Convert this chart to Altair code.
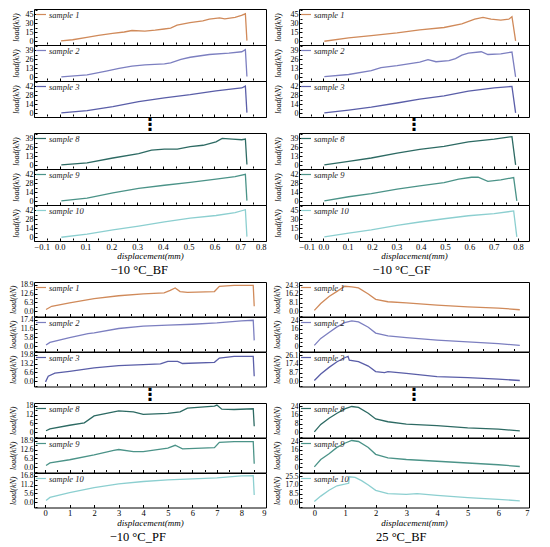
import json
import altair as alt
import pandas as pd

SERIF = "Liberation Serif"

SAMPLES = ["sample 1", "sample 2", "sample 3", "sample 8", "sample 9", "sample 10"]
COLORS = ["#d08a5a", "#7c7fc0", "#5a5ea8", "#2d6a63", "#4b9388", "#8ccfd0"]
GROUP_TITLES = ["\u221210 \u00b0C_BF", "\u221210 \u00b0C_GF", "\u221210 \u00b0C_PF", "25 \u00b0C_BF"]

# ---------------- -10 °C_BF (top-left) ----------------
tl_s1_x = [0.005, 0.05, 0.105, 0.15, 0.205, 0.25, 0.28, 0.33, 0.37, 0.405, 0.43, 0.455, 0.505, 0.555, 0.58, 0.62, 0.64, 0.68, 0.705, 0.72, 0.726]
tl_s1_y = [0.5, 2.5, 6.5, 10, 13, 15.5, 18, 17, 18.5, 20.5, 22, 27, 31, 34, 37, 39, 37.5, 40, 43.5, 46, 1]
tl_s2_x = [0.006, 0.106, 0.18, 0.23, 0.28, 0.33, 0.406, 0.43, 0.47, 0.506, 0.58, 0.656, 0.706, 0.72, 0.726]
tl_s2_y = [0.5, 3.5, 9, 13, 16, 18, 19.5, 21, 26, 29, 33, 35, 37, 40, 1]
tl_s3_x = [0.006, 0.106, 0.206, 0.306, 0.406, 0.506, 0.606, 0.68, 0.706, 0.72, 0.726]
tl_s3_y = [0.5, 4, 10.5, 18, 24, 29, 35, 38.5, 39.5, 42.5, 1]
tl_s8_x = [0.006, 0.106, 0.206, 0.306, 0.356, 0.406, 0.456, 0.506, 0.556, 0.606, 0.63, 0.67, 0.706, 0.72, 0.726]
tl_s8_y = [0.5, 3.5, 10.5, 17, 22, 23.5, 23.5, 27, 29, 34, 39, 38, 37, 38, 1]
tl_s9_x = [0.006, 0.106, 0.206, 0.306, 0.406, 0.506, 0.606, 0.68, 0.72, 0.726]
tl_s9_y = [0.5, 5, 13, 20, 25, 29.5, 34.5, 38.5, 42, 1]
tl_s10_x = [0.006, 0.106, 0.206, 0.306, 0.406, 0.506, 0.606, 0.68, 0.72, 0.726]
tl_s10_y = [0, 5, 11.5, 17.5, 24, 30, 34, 38.5, 43, 1]

# ---------------- -10 °C_GF (top-right) ----------------
tr_s1_x = [0.004, 0.104, 0.197, 0.303, 0.396, 0.496, 0.569, 0.622, 0.656, 0.689, 0.729, 0.762, 0.775, 0.79]
tr_s1_y = [0, 5.5, 9.5, 14, 19, 23, 29, 37, 40, 37, 35.5, 37, 41, 0.5]
tr_s2_x = [0.004, 0.104, 0.197, 0.237, 0.303, 0.396, 0.43, 0.463, 0.516, 0.543, 0.569, 0.596, 0.649, 0.676, 0.729, 0.775, 0.79]
tr_s2_y = [1, 4, 9.5, 14, 17, 22, 25.5, 22.5, 24, 27, 32, 35, 37, 33, 34, 36.5, 0.5]
tr_s3_x = [0.004, 0.104, 0.197, 0.303, 0.396, 0.496, 0.596, 0.702, 0.775, 0.79]
tr_s3_y = [0.5, 5, 9.5, 16, 22, 27, 34.5, 39.5, 42, 0.5]
tr_s8_x = [0.004, 0.104, 0.197, 0.303, 0.396, 0.496, 0.596, 0.702, 0.775, 0.79]
tr_s8_y = [0.5, 5.7, 10.5, 17.5, 23, 27.5, 34, 38, 41.5, 0.5]
tr_s9_x = [0.004, 0.104, 0.197, 0.303, 0.396, 0.496, 0.556, 0.609, 0.636, 0.676, 0.729, 0.782, 0.795]
tr_s9_y = [0.5, 7, 12, 19, 24, 29, 34.5, 37.5, 37.5, 31, 33.5, 37, 0.5]
tr_s10_x = [0.004, 0.104, 0.197, 0.303, 0.396, 0.496, 0.596, 0.702, 0.782, 0.795]
tr_s10_y = [0.5, 7, 12.5, 20, 25.5, 31, 36, 39.5, 44, 0.5]

# ---------------- -10 °C_PF (bottom-left) ----------------
bl_s1_x = [0.04, 0.27, 1.0, 2.0, 3.0, 4.0, 4.85, 5.1, 5.3, 5.5, 5.8, 6.9, 7.1, 7.7, 8.48, 8.52]
bl_s1_y = [1.2, 3.5, 6, 9, 11, 12.3, 13, 14.8, 16.5, 14, 13.4, 14, 17.7, 18.4, 18.4, 3.5]
bl_s2_x = [0.04, 0.2, 1.0, 1.75, 2.0, 3.0, 4.0, 5.0, 6.0, 7.0, 8.0, 8.48, 8.52]
bl_s2_y = [0.8, 2.5, 5.6, 8.2, 8.7, 11.6, 13.1, 13.8, 14.4, 15.3, 16.6, 17.0, 3.8]
bl_s3_x = [0.02, 0.13, 0.4, 1.0, 2.0, 3.0, 4.0, 4.7, 5.0, 5.4, 5.6, 6.9, 7.1, 7.7, 8.48, 8.52]
bl_s3_y = [-0.5, 3.7, 6, 7.4, 9.9, 11.6, 12.4, 12.9, 14.8, 14.8, 13.2, 14.1, 17.3, 18.5, 18.5, 3.7]
bl_s8_x = [0.04, 0.2, 1.0, 1.6, 2.0, 3.0, 3.6, 4.0, 5.0, 5.5, 5.8, 6.9, 7.0, 7.2, 7.7, 8.48, 8.52]
bl_s8_y = [1, 2.3, 4.7, 6.3, 11, 14.5, 13.8, 12.1, 12.8, 13.8, 16.3, 17.7, 18.4, 15.6, 15.4, 15.9, 4]
bl_s9_x = [0.04, 0.2, 1.0, 2.0, 2.8, 3.0, 3.6, 4.0, 5.0, 5.3, 5.6, 6.9, 7.1, 7.7, 8.48, 8.52]
bl_s9_y = [1.2, 3, 5.3, 8.7, 11.9, 12.6, 11.1, 11.1, 13.6, 15.6, 13.1, 13.9, 17.7, 18.2, 18.2, 2.4]
bl_s10_x = [0.04, 0.2, 1.0, 2.0, 3.0, 4.0, 5.0, 6.0, 7.0, 8.0, 8.48, 8.52]
bl_s10_y = [1, 3, 6, 9.2, 11.6, 13.1, 14.1, 14.8, 15.4, 16.6, 16.8, 4.5]

# ---------------- 25 °C_BF (bottom-right) ----------------
br_s1_x = [0.0, 0.21, 0.48, 0.74, 0.99, 1.22, 1.44, 1.76, 2.0, 2.4, 3.0, 4.0, 5.0, 6.0, 6.7]
br_s1_y = [1, 7.4, 13.8, 18.6, 23.3, 22.7, 21.8, 16.2, 11.2, 9, 8, 5.8, 4.2, 3.2, 1.6]
br_s2_x = [0.0, 0.21, 0.48, 0.74, 0.99, 1.22, 1.44, 1.76, 2.0, 2.4, 3.0, 4.0, 5.0, 6.0, 6.7]
br_s2_y = [1, 7.4, 12.8, 17.9, 21.8, 23.4, 22.4, 17.6, 12.2, 9.6, 8, 5.8, 4.2, 2.6, 1]
br_s3_x = [0.0, 0.21, 0.48, 0.74, 1.01, 1.1, 1.14, 1.44, 1.76, 2.0, 2.29, 2.4, 3.0, 4.0, 5.0, 6.0, 6.7]
br_s3_y = [1, 7.5, 14, 19.6, 23.8, 25, 21.2, 19.6, 15.3, 9.8, 8.8, 9.8, 8.1, 4.9, 3.9, 2.3, 1]
br_s8_x = [0.0, 0.21, 0.48, 0.74, 0.99, 1.22, 1.44, 1.76, 2.0, 2.4, 3.0, 4.0, 5.0, 6.0, 6.7]
br_s8_y = [0.6, 7.4, 13, 17.5, 21.5, 23.7, 22.8, 17.5, 12.3, 9.8, 7.7, 6.2, 4.3, 3.1, 1.5]
br_s9_x = [0.0, 0.21, 0.48, 0.74, 0.99, 1.22, 1.44, 1.76, 2.0, 2.4, 3.0, 4.0, 5.0, 6.0, 6.7]
br_s9_y = [0.6, 7.2, 12.6, 18.3, 22.1, 24.6, 23.7, 18.3, 12, 8.8, 7.3, 5.7, 4.1, 2.5, 0.9]
br_s10_x = [0.0, 0.21, 0.48, 0.74, 0.99, 1.12, 1.14, 1.33, 1.54, 1.76, 2.0, 2.4, 3.0, 3.35, 4.0, 5.0, 6.0, 6.7]
br_s10_y = [1, 6.2, 11.8, 16.2, 17.7, 18.6, 24.9, 24.3, 21.2, 17, 11.8, 8.5, 7.8, 8.5, 6.8, 4.7, 3.1, 1.6]

# ---------------- tick labels ----------------
TL_YTICKS = [[0, 15, 30, 45], [0, 13, 26, 39], [0, 14, 28, 42], [0, 13, 26, 39], [0, 14, 28, 42], [0, 14, 28, 42]]
TR_YTICKS = [[0, 15, 30, 45], [0, 13, 26, 39], [0, 14, 28, 42], [0, 13, 26, 39], [0, 14, 28, 42], [0, 15, 30, 45]]
BL_YTICKS = [[0.0, 6.3, 12.6, 18.9], [0.0, 5.8, 11.6, 17.4], [0.0, 6.6, 13.2, 19.8], [0, 6, 12, 18], [0.0, 6.3, 12.6, 18.9], [0.0, 5.6, 11.2, 16.8]]
BR_YTICKS = [[0.0, 8.1, 16.2, 24.3], [0, 8, 16, 24], [0.0, 8.7, 17.4, 26.1], [0, 8, 16, 24], [0, 8, 16, 24], [0.0, 8.5, 17.0, 25.5]]
BL_YFMT = [".1f", ".1f", ".1f", "d", ".1f", ".1f"]
BR_YFMT = [".1f", "d", ".1f", "d", "d", ".1f"]

X_TICKS_MM = [-0.1, 0.0, 0.1, 0.2, 0.3, 0.4, 0.5, 0.6, 0.7, 0.8]
X_MINOR_MM = [-0.05, 0.05, 0.15, 0.25, 0.35, 0.45, 0.55, 0.65, 0.75]
X_TICKS_PF = [0, 1, 2, 3, 4, 5, 6, 7, 8, 9]
X_MINOR_PF = [0.5, 1.5, 2.5, 3.5, 4.5, 5.5, 6.5, 7.5, 8.5]
X_TICKS_BF = [0, 1, 2, 3, 4, 5, 6, 7]
X_MINOR_BF = [0.5, 1.5, 2.5, 3.5, 4.5, 5.5, 6.5]


def major_test(values):
    return "indexof(%s, datum.value) >= 0" % json.dumps(values)


def panel(xs, ys, label, color, yticks, yfmt, g, last):
    df = pd.DataFrame({"x": xs, "y": ys})
    top = yticks[-1]
    ydom = [g["ylo"] * top, g["yhi"] * top]
    step = yticks[1] - yticks[0]
    yminor = [round(v + step / 2, 3) for v in [yticks[0] - step] + list(yticks)]
    yminor = [v for v in yminor if ydom[0] < v < ydom[1]]
    xs_ = alt.Scale(domain=g["xdom"], nice=False, zero=False)
    ys_ = alt.Scale(domain=ydom, nice=False, zero=False)
    xtest = major_test(g["xmajor"])
    ytest = major_test(list(yticks))
    xaxis_kw = dict(values=sorted(g["xmajor"] + g["xminor"]), orient="bottom", offset=-3,
                    tickSize={"condition": {"test": xtest, "value": 3}, "value": 2},
                    domain=False, grid=False, tickColor="black", labels=last)
    if last:
        xaxis_kw.update(format=g["xfmt"], labelFontSize=8.5, labelPadding=1,
                        labelExpr="%s ? datum.label : ''" % xtest,
                        titleFontStyle="italic", titleFontSize=9, titlePadding=1,
                        titleFontWeight="normal")
        xt = "displacement(mm)"
    else:
        xt = None
    line = alt.Chart(df).mark_line(color=color, strokeWidth=1.3, clip=True).encode(
        x=alt.X("x:Q", scale=xs_, title=xt, axis=alt.Axis(**xaxis_kw)),
        y=alt.Y("y:Q", scale=ys_, title="load(kN)", axis=alt.Axis(
            values=sorted(list(yticks) + yminor), format=yfmt, orient="left", offset=-3,
            tickSize={"condition": {"test": ytest, "value": 3}, "value": 2},
            labelExpr="%s ? datum.label : ''" % ytest,
            domain=False, grid=False, labelFontSize=g["lfs"], labelPadding=1,
            titleFontStyle="italic", titleFontSize=8, titleFontWeight="normal",
            titleAngle=270, titleAlign="center", titleBaseline="middle",
            titleX=g["titlex"], titleY=g["h"] / 2)),
    )
    ldf = pd.DataFrame({"s": [label]})
    lrule = alt.Chart(ldf).mark_rule(color=color, strokeWidth=1.2).encode(
        x=alt.value(2), x2=alt.value(12), y=alt.value(5.5))
    ltext = alt.Chart(ldf).mark_text(align="left", baseline="middle", font=SERIF,
                                     fontStyle="italic", fontSize=8.5, color="#222").encode(
        text="s:N", x=alt.value(15), y=alt.value(5.5))
    return alt.layer(line, lrule, ltext).properties(width=g["w"], height=g["h"])


def dots(g):
    d = pd.DataFrame({"d": ["\u22ee"]})
    return alt.Chart(d).mark_text(font="DejaVu Sans", fontSize=17, fontWeight="bold",
                                  baseline="middle", color="black").encode(
        text="d:N", x=alt.value(g["w"] / 2), y=alt.value(g["dh"] / 2)
    ).properties(width=g["w"], height=g["dh"], view=alt.ViewBackground(strokeOpacity=0))


def group(series, yticks, yfmts, color_list, g, title):
    charts = []
    for i, (xs, ys) in enumerate(series):
        charts.append(panel(xs, ys, SAMPLES[i], color_list[i], yticks[i], yfmts[i], g, i == 5))
        if i == 2:
            charts.append(dots(g))
    return alt.vconcat(*charts, spacing=0, bounds="flush", title=alt.TitleParams(
        text=title, orient="bottom", anchor="middle", font=SERIF, fontSize=12.5,
        fontWeight="normal", color="black", offset=3)).resolve_scale(x="independent", y="independent")


G_TL = dict(xdom=[-0.1, 0.8], xmajor=X_TICKS_MM, xminor=X_MINOR_MM, xfmt=".1f",
            ylo=-0.14, yhi=1.2, w=232, h=36, dh=16, titlex=-21, lfs=8)
G_TR = dict(xdom=[-0.1, 0.845], xmajor=X_TICKS_MM, xminor=X_MINOR_MM, xfmt=".1f",
            ylo=-0.14, yhi=1.2, w=230, h=36, dh=16, titlex=-24, lfs=8)
G_BL = dict(xdom=[-0.45, 9.0], xmajor=X_TICKS_PF, xminor=X_MINOR_PF, xfmt="d",
            ylo=-0.2, yhi=1.1, w=232, h=34.5, dh=16, titlex=-24, lfs=7.5)
G_BR = dict(xdom=[-0.5, 7.0], xmajor=X_TICKS_BF, xminor=X_MINOR_BF, xfmt="d",
            ylo=-0.19, yhi=1.12, w=230, h=34.5, dh=16, titlex=-25, lfs=7.5)

tl = group([(tl_s1_x, tl_s1_y), (tl_s2_x, tl_s2_y), (tl_s3_x, tl_s3_y),
            (tl_s8_x, tl_s8_y), (tl_s9_x, tl_s9_y), (tl_s10_x, tl_s10_y)],
           TL_YTICKS, ["d"] * 6, COLORS, G_TL, GROUP_TITLES[0])
tr = group([(tr_s1_x, tr_s1_y), (tr_s2_x, tr_s2_y), (tr_s3_x, tr_s3_y),
            (tr_s8_x, tr_s8_y), (tr_s9_x, tr_s9_y), (tr_s10_x, tr_s10_y)],
           TR_YTICKS, ["d"] * 6, COLORS, G_TR, GROUP_TITLES[1])
bl = group([(bl_s1_x, bl_s1_y), (bl_s2_x, bl_s2_y), (bl_s3_x, bl_s3_y),
            (bl_s8_x, bl_s8_y), (bl_s9_x, bl_s9_y), (bl_s10_x, bl_s10_y)],
           BL_YTICKS, BL_YFMT, COLORS, G_BL, GROUP_TITLES[2])
br = group([(br_s1_x, br_s1_y), (br_s2_x, br_s2_y), (br_s3_x, br_s3_y),
            (br_s8_x, br_s8_y), (br_s9_x, br_s9_y), (br_s10_x, br_s10_y)],
           BR_YTICKS, BR_YFMT, COLORS, G_BR, GROUP_TITLES[3])

left = alt.vconcat(tl, bl, spacing=3).resolve_scale(x="independent", y="independent")
right = alt.vconcat(tr, br, spacing=3).resolve_scale(x="independent", y="independent")

chart = alt.hconcat(left, right, spacing=5, padding=0).resolve_scale(
    x="independent", y="independent"
).configure_view(stroke="black", strokeWidth=1).configure_axis(
    labelFont=SERIF, titleFont=SERIF, labelColor="black", titleColor="black", tickColor="black"
)

chart.save("out.html", embed_options={"renderer": "svg", "actions": False})
